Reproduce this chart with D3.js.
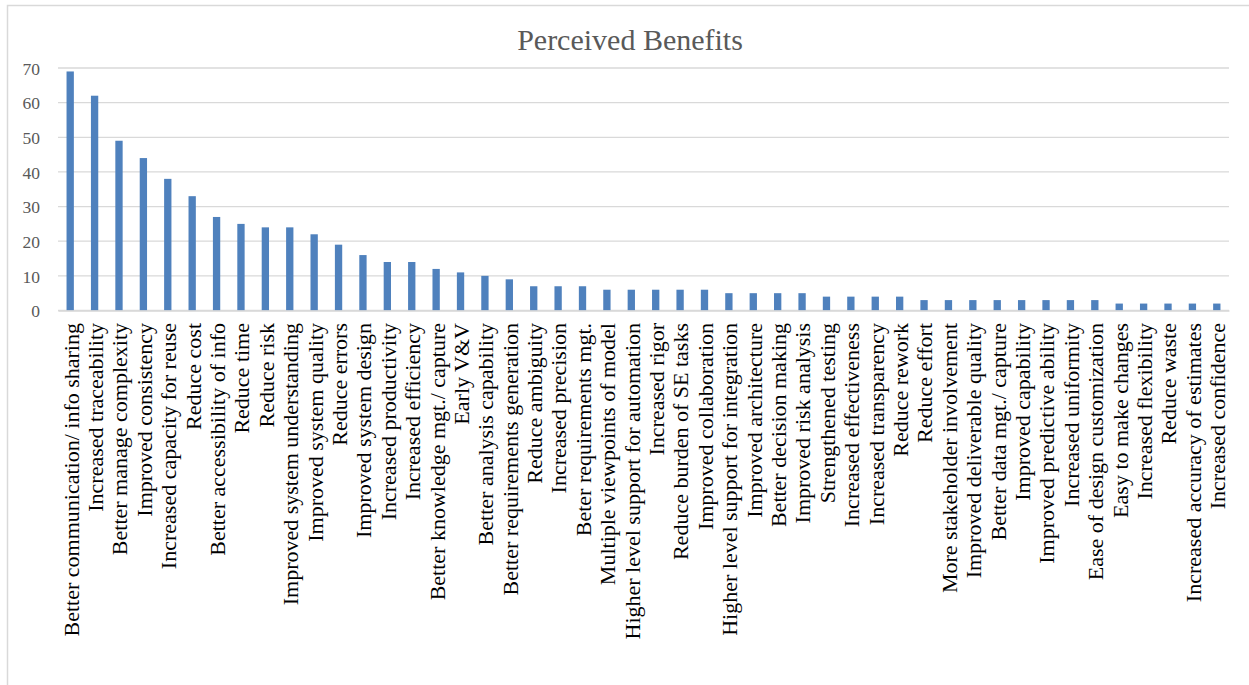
<!DOCTYPE html>
<html>
<head>
<meta charset="utf-8">
<script src="https://cdn.jsdelivr.net/npm/d3@7"></script>
<style>
  html, body { margin: 0; padding: 0; background: #fff; }
  svg { display: block; }
</style>
</head>
<body>
<svg id="chart" width="1249" height="685" font-family="Liberation Serif"></svg>
<script>
// Benefit categories, in descending order of mentions
const categories = [
  "Better communication/ info sharing",
  "Increased traceability",
  "Better manage complexity",
  "Improved consistency",
  "Increased capacity for reuse",
  "Reduce cost",
  "Better accessibility of info",
  "Reduce time",
  "Reduce risk",
  "Improved system understanding",
  "Improved system quality",
  "Reduce errors",
  "Improved system design",
  "Increased productivity",
  "Increased efficiency",
  "Better knowledge mgt./ capture",
  "Early V&V",
  "Better analysis capability",
  "Better requirements generation",
  "Reduce ambiguity",
  "Increased precision",
  "Beter requirements mgt.",
  "Multiple viewpoints of model",
  "Higher level support for automation",
  "Increased rigor",
  "Reduce burden of SE tasks",
  "Improved collaboration",
  "Higher level support for integration",
  "Improved architecture",
  "Better decision making",
  "Improved risk analysis",
  "Strengthened testing",
  "Increased effectiveness",
  "Increased transparency",
  "Reduce rework",
  "Reduce effort",
  "More stakeholder involvement",
  "Improved deliverable quality",
  "Better data mgt./ capture",
  "Improved capability",
  "Improved predictive ability",
  "Increased uniformity",
  "Ease of design customization",
  "Easy to make changes",
  "Increased flexibility",
  "Reduce waste",
  "Increased accuracy of estimates",
  "Increased confidence"
];

// Number of mentions per benefit
const counts = [
  69, 62, 49, 44, 38, 33, 27, 25, 24, 24,
  22, 19, 16, 14, 14, 12, 11, 10, 9, 7,
  7, 7, 6, 6, 6, 6, 6, 5, 5, 5,
  5, 4, 4, 4, 4, 3, 3, 3, 3, 3,
  3, 3, 3, 2, 2, 2, 2, 2
];

const yTicks = [0, 10, 20, 30, 40, 50, 60, 70];
const title = "Perceived Benefits";

const FONT = "Liberation Serif";
const data = categories.map((c, i) => ({ name: c, value: counts[i] }));

const svg = d3.select("#chart");
const W = 1249, H = 685;
const plot = { left: 58, right: 1229, top: 68, bottom: 310.5 };

// Outer chart frame
svg.append("rect")
  .attr("x", 7.5).attr("y", 5.5)
  .attr("width", W + 20).attr("height", H + 20)
  .attr("fill", "#fff")
  .attr("stroke", "#d9d9d9")
  .attr("stroke-width", 1.5);

const x = d3.scaleBand()
  .domain(categories)
  .range([plot.left, plot.right])
  .paddingInner(0.7)
  .paddingOuter(0.35);

const y = d3.scaleLinear()
  .domain([0, 70])
  .range([plot.bottom, plot.top]);

// Horizontal gridlines
svg.append("g")
  .selectAll("line")
  .data(yTicks)
  .join("line")
  .attr("x1", plot.left).attr("x2", plot.right)
  .attr("y1", d => y(d)).attr("y2", d => y(d))
  .attr("stroke", "#d9d9d9")
  .attr("stroke-width", 1.3);

// Y axis labels
const yAxis = d3.axisLeft(y).tickValues(yTicks).tickSize(0).tickPadding(0);
const yg = svg.append("g")
  .attr("transform", `translate(${plot.left - 18},0)`)
  .call(yAxis)
  .attr("font-family", FONT)
  .attr("font-size", 17.5);
yg.select(".domain").remove();
yg.selectAll("text")
  .attr("fill", "#595959")
  .attr("dy", "0.36em");

// Bars
svg.append("g")
  .selectAll("rect")
  .data(data)
  .join("rect")
  .attr("x", d => x(d.name))
  .attr("width", x.bandwidth())
  .attr("y", d => y(d.value))
  .attr("height", d => y(0) - y(d.value))
  .attr("fill", "#4f81bd");

// X axis line and rotated category labels
const xAxis = d3.axisBottom(x).tickSize(0).tickPadding(0);
const xg = svg.append("g")
  .attr("transform", `translate(0,${plot.bottom})`)
  .call(xAxis)
  .attr("font-family", FONT)
  .attr("font-size", 22);
xg.select(".domain")
  .attr("stroke", "#d9d9d9")
  .attr("stroke-width", 1.3);
xg.selectAll("text")
  .attr("fill", "#000")
  .attr("text-anchor", "end")
  .attr("transform", "rotate(-90)")
  .attr("x", -12.5)
  .attr("y", 0)
  .attr("dy", "0.38em");

// Title
svg.append("text")
  .attr("x", 630)
  .attr("y", 50)
  .attr("text-anchor", "middle")
  .attr("fill", "#595959")
  .attr("font-family", FONT)
  .attr("font-size", 30)
  .text(title);
</script>
</body>
</html>
